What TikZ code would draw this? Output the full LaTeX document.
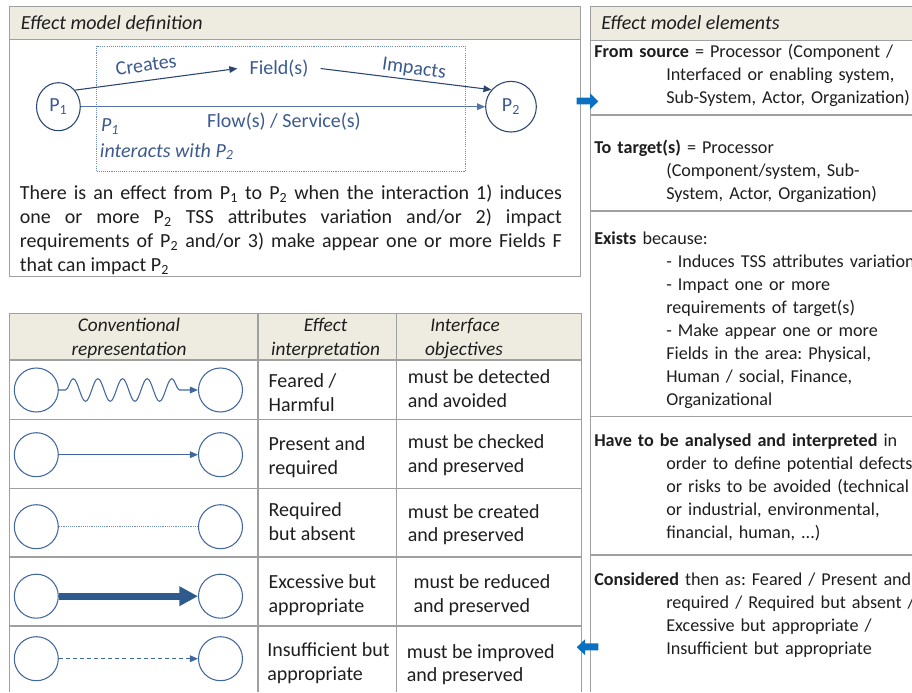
\documentclass[tikz,border=0pt]{standalone}
\usepackage{fontspec}
\setmainfont{Carlito}
\usetikzlibrary{arrows.meta,decorations.pathmorphing,shapes.geometric}
\definecolor{hdrfill}{HTML}{EEECE1}
\definecolor{framegray}{HTML}{A0A0A0}
\definecolor{dtext}{HTML}{3C5A8E}
\definecolor{dline}{HTML}{2A4670}
\definecolor{flowc}{HTML}{5575A8}
\definecolor{boxc}{HTML}{6F8CBF}
\definecolor{circc}{HTML}{41679F}
\definecolor{thickc}{HTML}{2F5A8E}
\definecolor{blockc}{HTML}{0B6FC2}
\definecolor{bodyc}{HTML}{1E1E1E}
\frenchspacing
\begin{document}
\begin{tikzpicture}[x=0.75pt,y=-0.75pt,
  frameline/.style={draw=framegray, line width=0.9pt},
  ttl/.style={inner sep=0, anchor=base west, text=bodyc, font=\fontsize{15}{18}\selectfont\itshape},
  btxt/.style={inner sep=0, anchor=base west, text=bodyc, font=\fontsize{15}{18}\selectfont},
  thtxt/.style={inner sep=0, anchor=base, text=bodyc, font=\fontsize{14.5}{18}\selectfont\itshape},
  rtxt/.style={inner sep=0, anchor=base west, text=bodyc, font=\fontsize{13.6}{17.25}\selectfont, text width=330pt, align=left},
  dlab/.style={inner sep=0, text=dtext, font=\fontsize{15}{18}\selectfont},
  pnode/.style={draw=dline, ellipse, line width=0.8pt, inner sep=0, text=dtext, font=\fontsize{15}{18}\selectfont},
  tnode/.style={draw=circc, circle, line width=0.8pt, minimum size=33pt, inner sep=0},
  smalltip/.style={-{Triangle[length=6pt,width=5pt]}},
  blockarrow/.style={fill=blockc}
]
\useasboundingbox (0,0) rectangle (912,692);
\clip (0,0) rectangle (912,692);

% ---------- top-left panel ----------
\fill[hdrfill] (9.4,6.7) rectangle (580.7,39.3);
\draw[frameline] (9.4,6.7) rectangle (580.7,276.7);
\draw[frameline] (9.4,39.3) -- (580.7,39.3);
\node[ttl] (deftitle) at (20.7,30) {Effect model definition};

\node[draw=boxc, line width=0.75pt, dash pattern=on 0.8pt off 0.8pt, inner sep=0,
      minimum width=276.6pt, minimum height=93.5pt, anchor=north west] (zone) at (96,46) {};

\node[pnode, minimum width=32.8pt, minimum height=36pt] (p1) at (58.4,106.7) {P\textsubscript{1}};
\node[pnode, circle, minimum size=38pt] (p2) at (511,106.7) {P\textsubscript{2}};
\node[dlab, inner xsep=9pt] (field) at (279,68.5) {Field(s)};
\node[dlab, rotate=8] (creates) at (146,65) {Creates};
\node[dlab, rotate=-8] (impacts) at (414,69.5) {Impacts};
\node[dlab, anchor=base] (flow) at (284,127.5) {Flow(s) / Service(s)};
\node[dlab, anchor=base west, font=\fontsize{15}{18}\selectfont\itshape] (ip1) at (100.9,131.5) {P\textsubscript{1}};
\node[dlab, anchor=base west, font=\fontsize{15}{18}\selectfont\itshape] (iw) at (99.7,157) {interacts with P\textsubscript{2}};

\draw[dline, line width=0.8pt, smalltip] (p1.45) -- (field.west);
\draw[dline, line width=0.8pt, smalltip] (field.east) -- (p2.139);
\draw[flowc, line width=0.8pt, smalltip] (p1) -- (p2);

\node[btxt, text width=406.5pt, align=justify] (bodytext) at (19.6,199.3)
 {There is an effect from P\textsubscript{1} to P\textsubscript{2} when the interaction 1) induces\linebreak
  one or more P\textsubscript{2} TSS attributes variation and/or 2) impact\linebreak
  requirements of P\textsubscript{2} and/or 3) make appear one or more Fields F\linebreak
  that can impact P\textsubscript{2}};

% ---------- right panel ----------
\fill[hdrfill] (590.7,6.7) rectangle (912,40.7);
\draw[frameline] (912,6.7) -- (590.7,6.7) -- (590.7,692);
\foreach \yy in {40.7,115,211,416.7,555} \draw[frameline] (590.7,\yy) -- (912,\yy);
\node[ttl] (eltitle) at (601,29.5) {Effect model elements};

\node[rtxt] (src) at (594,57.3) {\textbf{From source} = Processor (Component /\\
  \hspace*{54pt}Interfaced or enabling system,\\
  \hspace*{54pt}Sub-System, Actor, Organization)};
\node[rtxt] (tgt) at (594,153.3) {\textbf{To target(s)} = Processor\\
  \hspace*{54pt}(Component/system, Sub-\\
  \hspace*{54pt}System, Actor, Organization)};
\node[rtxt] (exists) at (594,244) {\textbf{Exists} because:\\
  \hspace*{54pt}- Induces TSS attributes variation\\
  \hspace*{54pt}- Impact one or more\\
  \hspace*{54pt}requirements of target(s)\\
  \hspace*{54pt}- Make appear one or more\\
  \hspace*{54pt}Fields in the area: Physical,\\
  \hspace*{54pt}Human / social, Finance,\\
  \hspace*{54pt}Organizational};
\node[rtxt] (analysed) at (594,446) {\textbf{Have to be analysed and interpreted} in\\
  \hspace*{54pt}order to define potential defects\\
  \hspace*{54pt}or risks to be avoided (technical\\
  \hspace*{54pt}or industrial, environmental,\\
  \hspace*{54pt}financial, human, ...)};
\node[rtxt] (considered) at (594,585) {\textbf{Considered} then as: Feared / Present and\\
  \hspace*{54pt}required / Required but absent /\\
  \hspace*{54pt}Excessive but appropriate /\\
  \hspace*{54pt}Insufficient but appropriate};

% ---------- table ----------
\fill[hdrfill] (9.4,313.3) rectangle (581.5,360);
\foreach \xx in {9.4,258,396.3,581.5} \draw[frameline] (\xx,313.3) -- (\xx,692);
\foreach \yy in {313.3,360,419.3,488.7,557,626} \draw[frameline] (9.4,\yy) -- (581.5,\yy);

\node[thtxt] (h1a) at (129,331.5) {Conventional};
\node[thtxt] (h1b) at (129,355) {representation};
\node[thtxt] (h2a) at (325.6,331.5) {Effect};
\node[thtxt] (h2b) at (325.6,355) {interpretation};
\node[thtxt] (h3a) at (465,331.5) {Interface};
\node[thtxt] (h3b) at (464,355) {objectives};

\node[tnode] (l1) at (36.3,390) {};   \node[tnode] (r1) at (220.5,390) {};
\node[tnode] (l2) at (36.3,454.7) {}; \node[tnode] (r2) at (220.5,454.7) {};
\node[tnode] (l3) at (36.3,526.7) {}; \node[tnode] (r3) at (220.5,526.7) {};
\node[tnode] (l4) at (36.3,596.2) {}; \node[tnode] (r4) at (220.5,596.2) {};
\node[tnode] (l5) at (36.3,658.7) {}; \node[tnode] (r5) at (220.5,658.7) {};

\draw[circc, line width=0.8pt, smalltip, decorate,
      decoration={snake, amplitude=8.5pt, segment length=18.5pt, pre length=5pt, post length=5.5pt}]
      (l1) -- (r1);
\draw[circc, line width=0.8pt, smalltip] (l2) -- (r2);
\draw[boxc, line width=0.7pt, dash pattern=on 0.7pt off 0.7pt] (l3) -- (r3);
\draw[thickc, line width=5pt, -{Triangle[length=14pt,width=14pt]}] (l4) -- (r4);
\draw[circc, line width=0.8pt, dash pattern=on 3pt off 2.3pt, smalltip] (l5) -- (r5);

\node[btxt] (t1a) at (268.3,387.3) {Feared /};
\node[btxt] (t1b) at (268.3,411.5) {Harmful};
\node[btxt] (o1a) at (407.6,383.3) {must be detected};
\node[btxt] (o1b) at (407.6,407.3) {and avoided};
\node[btxt] (t2a) at (268.3,450) {Present and};
\node[btxt] (t2b) at (268.3,474) {required};
\node[btxt] (o2a) at (407.6,448.3) {must be checked};
\node[btxt] (o2b) at (407.6,472.3) {and preserved};
\node[btxt] (t3a) at (268.3,516.7) {Required};
\node[btxt] (t3b) at (268.3,540.7) {but absent};
\node[btxt] (o3a) at (407.6,518.3) {must be created};
\node[btxt] (o3b) at (407.6,541.7) {and preserved};
\node[btxt] (t4a) at (268.3,588.3) {Excessive but};
\node[btxt] (t4b) at (268.3,612.5) {appropriate};
\node[btxt] (o4a) at (413.3,588.3) {must be reduced};
\node[btxt] (o4b) at (413.3,612.5) {and preserved};
\node[btxt] (t5a) at (267,656.5) {Insufficient but};
\node[btxt] (t5b) at (267,680.5) {appropriate};
\node[btxt] (o5a) at (406.5,658) {must be improved};
\node[btxt] (o5b) at (406.5,681.5) {and preserved};

% ---------- block arrows between panels ----------
\fill[blockarrow] (576.7,97.7) -- (590,97.7) -- (590,93.3) -- (598.3,101.3) -- (590,109.3) -- (590,104.3) -- (576.7,104.3) -- cycle;
\fill[blockarrow] (598.3,643.3) -- (585,643.3) -- (585,639.3) -- (576.7,647.2) -- (585,655) -- (585,650.3) -- (598.3,650.3) -- cycle;
\end{tikzpicture}
\end{document}
